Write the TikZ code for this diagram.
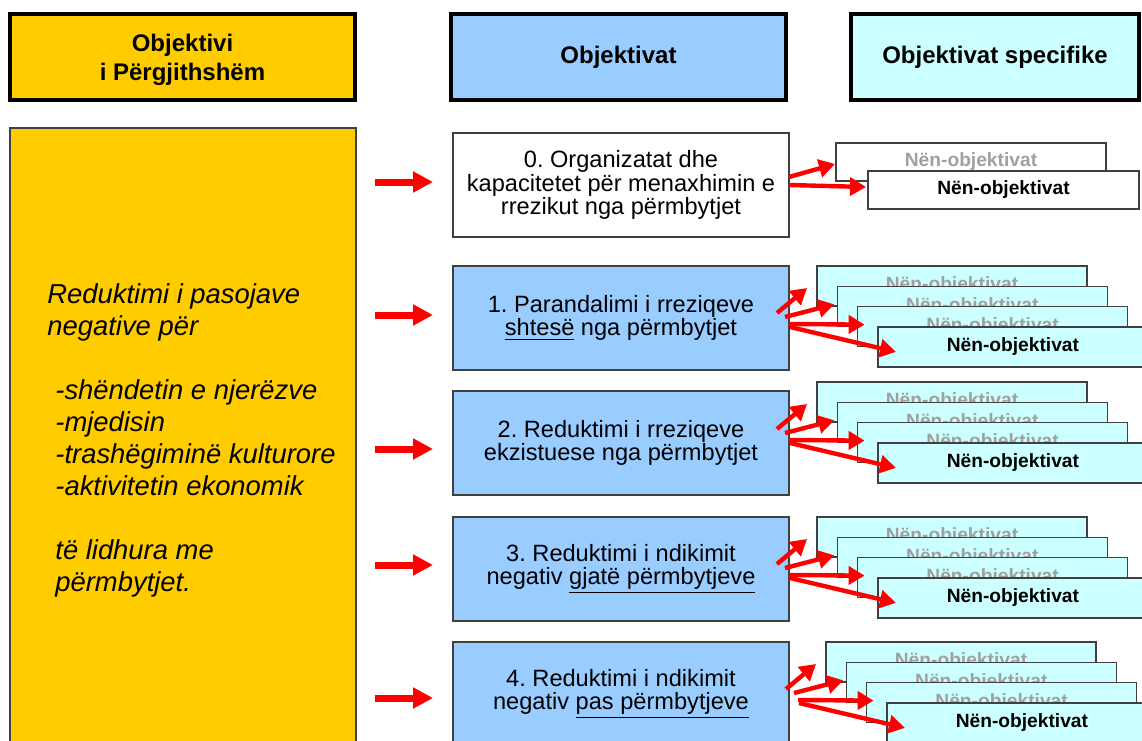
\documentclass[tikz,border=0pt]{standalone}
\usepackage{fontspec}
\setmainfont{Liberation Sans}
\usetikzlibrary{arrows.meta}
\definecolor{goalyellow}{HTML}{FFCC00}
\definecolor{midblue}{HTML}{99CCFF}
\definecolor{subcyan}{HTML}{CCFFFF}
\definecolor{arrowred}{HTML}{FF0000}
\definecolor{boxline}{HTML}{404040}
\definecolor{subgray}{HTML}{A0A0A0}
\tikzset{
  hdr/.style={draw=black, line width=2pt, inner sep=0pt, outer sep=0pt, align=center,
    minimum height=43pt, font=\bfseries\fontsize{12}{14.5}\selectfont},
  hdrtext/.style={inner sep=0pt, align=center, font=\bfseries\fontsize{12}{14.5}\selectfont},
  goalbox/.style={draw=boxline, line width=0.75pt, fill=goalyellow, inner sep=0pt, outer sep=0pt, anchor=north west},
  midbox/.style={draw=boxline, line width=0.75pt, fill=midblue, minimum width=168pt, minimum height=52pt,
    inner sep=0pt, outer sep=0pt, anchor=north west, align=center, font=\fontsize{11.8}{11.8}\selectfont},
  subbox/.style={draw=boxline, line width=0.75pt, fill=subcyan, minimum width=135pt, minimum height=20pt,
    inner sep=0pt, outer sep=0pt, anchor=north west, text=subgray, font=\bfseries\fontsize{9.6}{11}\selectfont},
  frontbox/.style={text=black},
  bigarrow/.style={draw=arrowred, line width=3.5pt, -{Triangle[length=10pt,width=10pt]}, shorten >=10pt},
  fanarrow/.style={draw=arrowred, line width=2.2pt, -{Triangle[length=8pt,width=9pt]}},
}
\begin{document}
\frenchspacing
\begin{tikzpicture}[x=0.5pt, y=-0.5pt]
\useasboundingbox (0,0) rectangle (1142,740);
\clip (0,0) rectangle (1142,740);
\fill[white] (0,0) rectangle (1142,740);

% headers
\node[hdr, fill=goalyellow, minimum width=172.5pt] (h1) at (182.5,57) {};
\node[hdrtext] (h1t) at (182.5,60) {Objektivi\\i Përgjithshëm};
\node[hdr, fill=midblue, minimum width=167.5pt] (h2) at (618.5,57) {Objektivat};
\node[hdr, fill=subcyan, minimum width=144pt] (h3) at (995,57) {Objektivat specifike};

% general objective
\node[goalbox, minimum width=173pt, minimum height=320pt] (goal) at (10,128) {};
\node[anchor=north west, inner sep=0pt, align=left,
      font=\itshape\fontsize{13.7}{16}\selectfont] (goaltext) at (47,283)
  {Reduktimi i pasojave\\
   negative për\\[16pt]
   \hspace*{4pt}-shëndetin e njerëzve\\
   \hspace*{4pt}-mjedisin\\
   \hspace*{4pt}-trashëgiminë kulturore\\
   \hspace*{4pt}-aktivitetin ekonomik\\[16pt]
   \hspace*{4pt}të lidhura me\\
   \hspace*{4pt}përmbytjet.};

% objectives
\node[midbox, fill=white] (m0) at (453,133) {0. Organizatat dhe\\kapacitetet për menaxhimin e\\rrezikut nga përmbytjet};
\node[midbox] (m1) at (453,266) {1. Parandalimi i rreziqeve\\\underline{shtesë} nga përmbytjet};
\node[midbox] (m2) at (453,391) {2. Reduktimi i rreziqeve\\ekzistuese nga përmbytjet};
\node[midbox] (m3) at (453,517) {3. Reduktimi i ndikimit\\negativ \underline{gjatë përmbytjeve}};
\node[midbox] (m4) at (453,642) {4. Reduktimi i ndikimit\\negativ \underline{pas përmbytjeve}};

% arrows from general objective to objectives
\coordinate (la0) at (375,182);
\coordinate (la1) at (375,315);
\coordinate (la2) at (375,449);
\coordinate (la3) at (375,565);
\coordinate (la4) at (375,698);
\foreach \i in {0,...,4}{
  \draw[bigarrow] (la\i) -- (la\i -| m\i.west);
}

% row 0 sub-objectives
\node[subbox, fill=white, minimum height=19pt] (s0-0) at (836,143) {Nën-objektivat};
\node[subbox, fill=white, frontbox, minimum height=19pt, minimum width=135.5pt] (s0-1) at (868,171) {Nën-objektivat};
\coordinate (fs0-0) at (789,177);
\coordinate (fs0-1) at (789,185);
\draw[fanarrow] (fs0-0) -- ([shift={(-1,2)}]s0-0.west);
\draw[fanarrow] (fs0-1) -- ([shift={(-2,-3)}]s0-1.west);

% rows 1-4 sub-objectives
\foreach \r/\X/\Y in {1/817/266, 2/817/382, 3/817/517, 4/826/642}{
  \foreach \k in {0,1,2}{
    \node[subbox] (s\r-\k) at (\X+20.3*\k,\Y+20.3*\k) {Nën-objektivat};
  }
  \node[subbox, frontbox] (s\r-3) at (\X+60.9,\Y+60.9) {Nën-objektivat};
  \foreach \k/\sx/\sy/\tx/\ty in {0/-40/47/-10/2, 1/-32/51/-3/-2, 2/-28/58/7/-2, 3/-27/61/18/5}{
    \coordinate (fs\r-\k) at (\X+\sx,\Y+\sy);
    \draw[fanarrow] (fs\r-\k) -- ([shift={(\tx,\ty)}]s\r-\k.west);
  }
}
\end{tikzpicture}
\end{document}
